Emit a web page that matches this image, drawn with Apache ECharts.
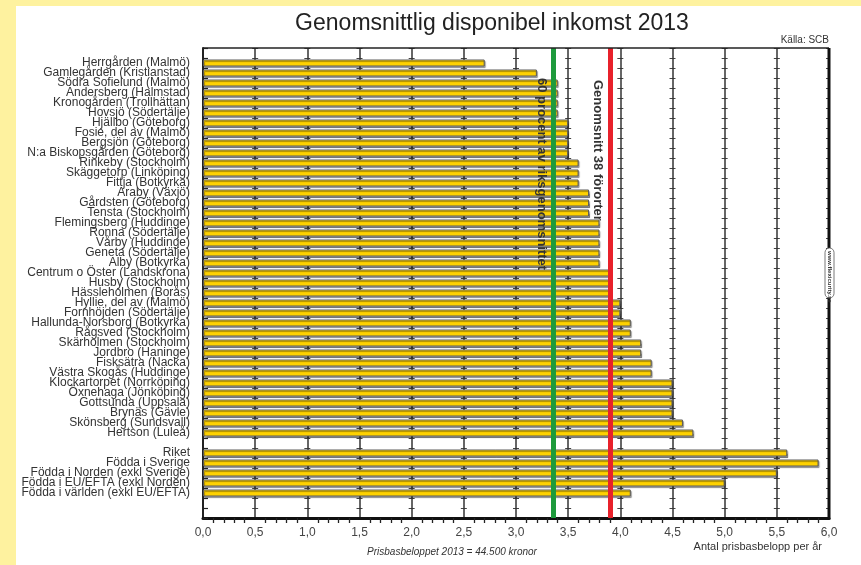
<!DOCTYPE html>
<html><head><meta charset="utf-8">
<script src="https://cdn.jsdelivr.net/npm/echarts@6/dist/echarts.min.js"></script>
<style>html,body{margin:0;padding:0;background:#fff}#c{width:861px;height:565px}</style>
</head><body><div id="c"></div>
<script>
const categories = [
 '',
 'Herrgården (Malmö)','Gamlegården (Kristianstad)','Södra Sofielund (Malmö)','Andersberg (Halmstad)',
 'Kronogården (Trollhättan)','Hovsjö (Södertälje)','Hjällbo (Göteborg)','Fosie, del av (Malmö)',
 'Bergsjön (Göteborg)','N:a Biskopsgården (Göteborg)','Rinkeby (Stockholm)','Skäggetorp (Linköping)',
 'Fittja (Botkyrka)','Araby (Växjö)','Gårdsten (Göteborg)','Tensta (Stockholm)','Flemingsberg (Huddinge)',
 'Ronna (Södertälje)','Vårby (Huddinge)','Geneta (Södertälje)','Alby (Botkyrka)','Centrum o Öster (Landskrona)',
 'Husby (Stockholm)','Hässleholmen (Borås)','Hyllie, del av (Malmö)','Fornhöjden (Södertälje)',
 'Hallunda-Norsborg (Botkyrka)','Rågsved (Stockholm)','Skärholmen (Stockholm)','Jordbro (Haninge)',
 'Fisksätra (Nacka)','Västra Skogås (Huddinge)','Klockartorpet (Norrköping)','Öxnehaga (Jönköping)',
 'Gottsunda (Uppsala)','Brynäs (Gävle)','Skönsberg (Sundsvall)','Hertson (Luleå)',
 ' ',
 'Riket','Födda i Sverige','Födda i Norden (exkl Sverige)','Födda i EU/EFTA (exkl Norden)','Födda i världen (exkl EU/EFTA)',
 '  ','   '
];
const values = [
 null,
 2.7,3.2,3.4,3.4,3.4,3.4,3.5,3.5,3.5,3.5,3.6,3.6,3.6,3.7,3.7,3.7,3.8,3.8,3.8,3.8,3.8,
 3.9,3.9,3.9,4.0,4.0,4.1,4.1,4.2,4.2,4.3,4.3,4.5,4.5,4.5,4.5,4.6,4.7,
 null,
 5.6,5.9,5.5,5.0,4.1,
 null,null
];
const refLines = [
 {name:'60 procent av riksgenomsnittet', value:3.36, color:'#1e9a3c'},
 {name:'Genomsnitt 38 förorter', value:3.9, color:'#e8212b'}
];
const xTicks = {min:0, max:6, interval:0.5};

const chart = echarts.init(document.getElementById('c'), null, {renderer:'canvas'});
const L=203, T=48, R=829, B=518;
const gap = (R-L)/((xTicks.max-xTicks.min)/xTicks.interval);
chart.setOption({
  backgroundColor:'#ffffff',
  animation:false,
  title:{text:'Genomsnittlig disponibel inkomst 2013', left:487, top:7, textAlign:'center',
    textStyle:{fontFamily:'Liberation Sans', fontSize:23, fontWeight:'normal', color:'#222'}},
  grid:{left:L, top:T, right:861-R, bottom:565-B, containLabel:false},
  xAxis:{type:'value', min:xTicks.min, max:xTicks.max, interval:xTicks.interval,
    axisLine:{show:true, onZero:false, lineStyle:{color:'#111', width:3}},
    axisTick:{show:false},
    minorTick:{show:true, splitNumber:5, length:5, lineStyle:{color:'#222', width:1.3}},
    axisLabel:{margin:9, fontFamily:'Liberation Sans', fontSize:12, color:'#444',
      formatter:v=>v.toFixed(1).replace('.',',')},
    splitLine:{show:true, lineStyle:{color:'#333', width:1.5}}
  },
  yAxis:{type:'category', data:categories, inverse:true,
    axisLine:{show:true, lineStyle:{color:'#222', width:2}},
    axisTick:{show:true, inside:true, length:5, interval:0, lineStyle:{color:'#222', width:1.2}},
    axisLabel:{interval:0, margin:13, fontFamily:'Liberation Sans', fontSize:12, color:'#333', lineHeight:10},
    splitLine:{show:true, interval:0, lineStyle:{color:'#444', width:1, type:[6, gap-6], dashOffset:3}}
  },
  series:[{
    type:'bar', data:values, barWidth:7,
    itemStyle:{color:'#ffd200', borderColor:'#5a5a5a', borderWidth:1,
      shadowColor:'rgba(0,0,0,0.35)', shadowOffsetX:1, shadowOffsetY:1.5, shadowBlur:1},
    markLine:{symbol:'none', silent:true, z:10,
      label:{show:false},
      data:refLines.map(r=>({xAxis:r.value, lineStyle:{color:r.color, width:5, type:'solid'}}))
    }
  }],
  graphic:[
    {type:'rect', shape:{x:0,y:0,width:861,height:6}, style:{fill:'#fef29f'}, z:-10},
    {type:'rect', shape:{x:0,y:0,width:16,height:565}, style:{fill:'#fef29f'}, z:-10},
    {type:'line', shape:{x1:L, y1:T, x2:R, y2:T}, style:{stroke:'#222', lineWidth:1.5}, z:50},
    {type:'line', shape:{x1:R, y1:T, x2:R, y2:B+1.5}, style:{stroke:'#111', lineWidth:3}, z:50},
    {type:'text', x:R, y:45, style:{text:'Källa: SCB', fontFamily:'Liberation Sans', fontSize:10, fill:'#333', align:'right', verticalAlign:'bottom'}, z:60},
    {type:'text', x:542, y:78, rotation:-Math.PI/2,
      style:{text:refLines[0].name, fontFamily:'Liberation Sans', fontSize:13, fontWeight:'bold', fill:'#333', align:'left', verticalAlign:'middle'}, z:60},
    {type:'text', x:598, y:80, rotation:-Math.PI/2,
      style:{text:refLines[1].name, fontFamily:'Liberation Sans', fontSize:13, fontWeight:'bold', fill:'#333', align:'left', verticalAlign:'middle'}, z:60},
    {type:'rect', shape:{x:825, y:248, width:9, height:50, r:4.5}, style:{fill:'#fff', stroke:'#555', lineWidth:0.8}, z:60},
    {type:'text', x:829.5, y:251, rotation:-Math.PI/2,
      style:{text:'www.flexicurity.se', fontFamily:'Liberation Sans', fontSize:6, fontWeight:'bold', fill:'#333', align:'left', verticalAlign:'middle'}, z:61},
    {type:'text', x:822, y:541, style:{text:'Antal prisbasbelopp per år', fontFamily:'Liberation Sans', fontSize:11, fill:'#333', align:'right', verticalAlign:'top'}, z:60},
    {type:'text', x:452, y:547, style:{text:'Prisbasbeloppet 2013 = 44.500 kronor', fontFamily:'Liberation Sans', fontSize:10, fontStyle:'italic', fill:'#333', align:'center', verticalAlign:'top'}, z:60}
  ]
});
</script></body></html>
